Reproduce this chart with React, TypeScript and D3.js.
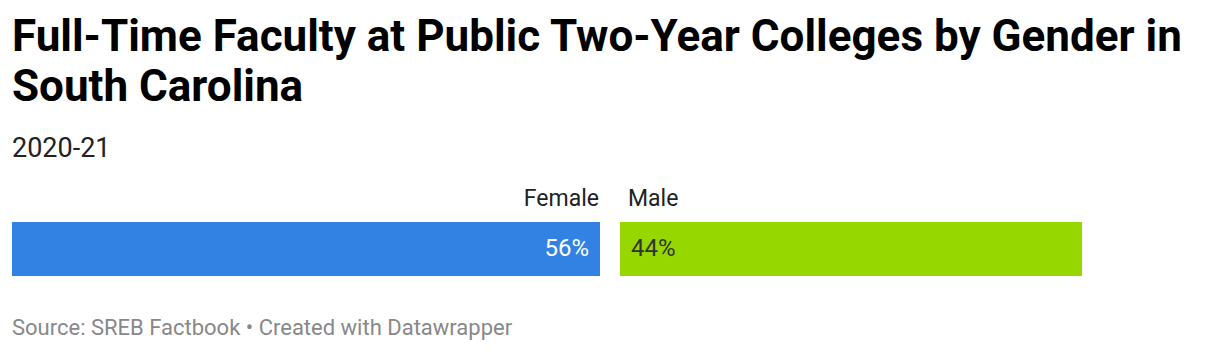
import * as d3 from "d3";

const categories = ["Female", "Male"];
const values = [56, 44];
const valueLabels = ["56%", "44%"];
const colors = ["#3182e2", "#96d700"];
const textColors = ["#ffffff", "#333333"];

const width = 1220;
const height = 352;
const left = 12;
const gap = 20;

export default function App() {
  const x = d3.scaleLinear().domain([0, 100]).range([0, 1050]);
  const starts = values.map((_, i) =>
    left + x(d3.sum(values.slice(0, i))) + i * gap
  );
  const barTop = 222;
  const barH = 54;

  return (
    <svg
      width={width}
      height={height}
      style={{ position: "absolute", left: 0, top: 0, fontFamily: "Roboto, sans-serif" }}
    >
      <rect width={width} height={height} fill="#fff" />
      <text x={left} y={51} fontSize={44} fontWeight={700} fill="#000">
        Full-Time Faculty at Public Two-Year Colleges by Gender in
      </text>
      <text x={left} y={101} fontSize={44} fontWeight={700} fill="#000">
        South Carolina
      </text>
      <text x={left} y={157} fontSize={27} fill="#222">
        2020-21
      </text>
      {categories.map((c, i) => {
        const w = x(values[i]);
        const x0 = starts[i];
        return (
          <g key={c}>
            <text
              x={i === 0 ? x0 + w - 1 : x0 + 8}
              y={206}
              fontSize={23}
              fill="#222"
              textAnchor={i === 0 ? "end" : "start"}
            >
              {c}
            </text>
            <rect x={x0} y={barTop} width={w} height={barH} fill={colors[i]} />
            <text
              x={i === 0 ? x0 + w - 11 : x0 + 11}
              y={256}
              fontSize={24}
              fill={textColors[i]}
              textAnchor={i === 0 ? "end" : "start"}
            >
              {valueLabels[i]}
            </text>
          </g>
        );
      })}
      <text x={left} y={335} fontSize={22} fill="#888">
        Source: SREB Factbook • Created with Datawrapper
      </text>
    </svg>
  );
}
